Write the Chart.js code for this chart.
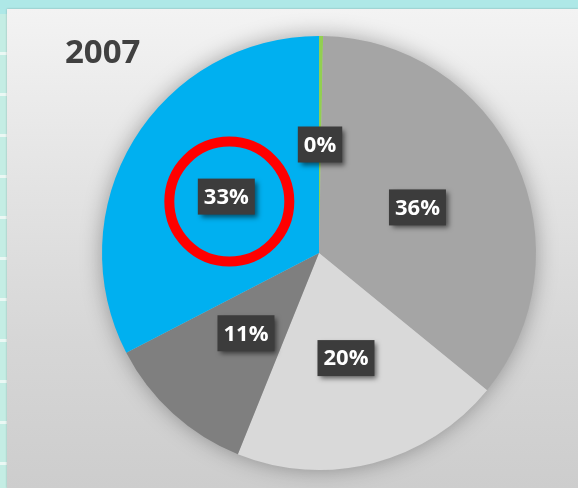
<!DOCTYPE html>
<html>
<head>
<meta charset="utf-8">
<script src="https://cdn.jsdelivr.net/npm/chart.js@4.4.0/dist/chart.umd.min.js"></script>
<style>
html, body { margin: 0; padding: 0; }
body { width: 578px; height: 488px; overflow: hidden; background: #aee8e7; position: relative; }
#strip { position: absolute; left: 0; top: 14px; width: 7px; height: 474px;
  background: repeating-linear-gradient(180deg, #c4ede4 0 38px, #eaf8f4 38px 41px); }
#panel { position: absolute; left: 7px; top: 9px; width: 571px; height: 479px;
  background: linear-gradient(180deg, #f3f3f3 0%, #e4e4e4 35%, #d6d6d6 70%, #cdcdcd 100%);
  box-shadow: 0 0 2px rgba(0,0,0,0.25); }
#my-chart { position: absolute; left: 0; top: 0; }
</style>
</head>
<body>
<div id="strip"></div>
<div id="panel"></div>
<canvas id="my-chart" width="578" height="488"></canvas>
<script>
const chartTitle = "2007";
const categories = ["Green", "Gray", "Light gray", "Dark gray", "Blue"];
const shares = [0.3, 35.6, 20.2, 11.3, 32.6];
const sliceColors = ["#92d050", "#a5a5a5", "#d9d9d9", "#7f7f7f", "#00b0f0"];
const highlighted = "Blue";

const ctx = document.querySelector("#my-chart");

const total = shares.reduce((a, b) => a + b, 0);

const pieDecor = {
  id: "pieDecor",
  beforeDatasetsDraw(chart) {
    const arc = chart.getDatasetMeta(0).data[0];
    const c = chart.ctx;
    c.save();
    c.shadowColor = "rgba(0,0,0,0.35)";
    c.shadowBlur = 22;
    c.fillStyle = "#bbbbbb";
    c.beginPath();
    c.arc(arc.x, arc.y, arc.outerRadius - 1, 0, Math.PI * 2);
    c.fill();
    c.restore();
  },
  afterDatasetsDraw(chart) {
    const c = chart.ctx;
    const meta = chart.getDatasetMeta(0);
    c.save();
    // title
    c.font = "bold 33px 'Open Sans'";
    c.fillStyle = "#404040";
    c.textAlign = "left";
    c.textBaseline = "alphabetic";
    c.fillText(chartTitle, 65, 63);

    // red ring around the highlighted slice label
    const hi = meta.data[categories.indexOf(highlighted)].tooltipPosition();
    c.strokeStyle = "#ff0000";
    c.lineWidth = 10;
    c.beginPath();
    c.arc(hi.x + 3, hi.y + 5, 60, 0, Math.PI * 2);
    c.stroke();

    // percentage labels
    c.font = "bold 22px 'Open Sans'";
    c.textAlign = "center";
    c.textBaseline = "middle";
    meta.data.forEach((el, i) => {
      const p = el.tooltipPosition();
      const txt = Math.round(shares[i] / total * 100) + "%";
      const w = c.measureText(txt).width + 12;
      const h = 36;
      c.save();
      c.shadowColor = "rgba(0,0,0,0.55)";
      c.shadowBlur = 5;
      c.shadowOffsetX = 3;
      c.shadowOffsetY = 3;
      c.fillStyle = "#3c3c3c";
      c.fillRect(p.x - w / 2, p.y - h / 2, w, h);
      c.restore();
      c.fillStyle = "#ffffff";
      c.fillText(txt, p.x, p.y + 1);
    });
    c.restore();
  }
};

new Chart(ctx, {
  type: "pie",
  data: {
    labels: categories,
    datasets: [{
      data: shares,
      backgroundColor: sliceColors,
      borderWidth: 0
    }]
  },
  options: {
    responsive: false,
    animation: false,
    layout: { padding: { left: 102, right: 42, top: 36, bottom: 18 } },
    plugins: {
      legend: { display: false },
      tooltip: { enabled: false }
    }
  },
  plugins: [pieDecor]
});
</script>
</body>
</html>
